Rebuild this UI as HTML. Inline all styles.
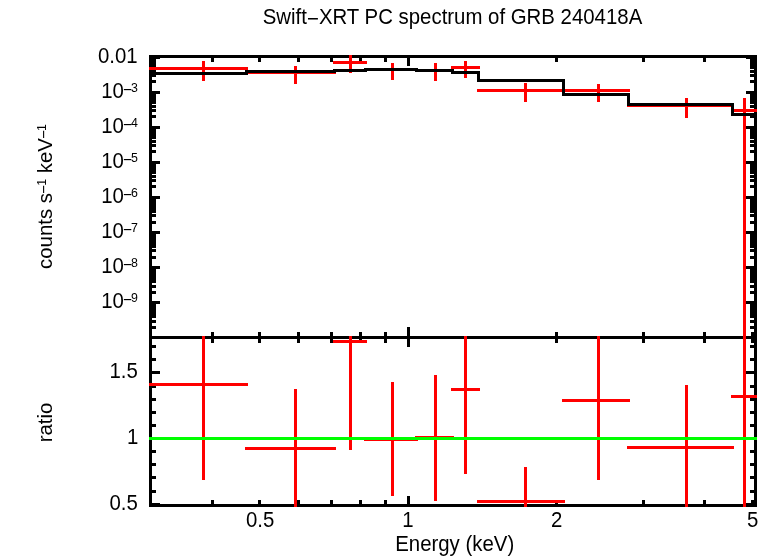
<!DOCTYPE html>
<html><head><meta charset="utf-8"><title>Swift-XRT PC spectrum of GRB 240418A</title>
<style>
html,body{margin:0;padding:0;background:#fff;}
svg{display:block;}
text{font-family:"Liberation Sans",Arial,Helvetica,sans-serif;fill:#000;}
</style></head><body>
<svg width="770" height="556" viewBox="0 0 770 556">
<rect x="0" y="0" width="770" height="556" fill="#fff"/>
<g shape-rendering="crispEdges">
<rect x="149" y="55" width="608" height="3" fill="#000"/>
<rect x="149" y="336" width="608" height="3" fill="#000"/>
<rect x="149" y="504" width="608" height="3" fill="#000"/>
<rect x="149" y="55" width="3" height="452" fill="#000"/>
<rect x="754" y="55" width="3" height="452" fill="#000"/>
<rect x="149" y="55" width="3" height="7" fill="#000"/>
<rect x="149" y="332" width="3" height="11" fill="#000"/>
<rect x="149" y="500" width="3" height="7" fill="#000"/>
<rect x="211" y="55" width="3" height="7" fill="#000"/>
<rect x="211" y="332" width="3" height="11" fill="#000"/>
<rect x="211" y="500" width="3" height="7" fill="#000"/>
<rect x="258" y="55" width="3" height="7" fill="#000"/>
<rect x="258" y="332" width="3" height="11" fill="#000"/>
<rect x="258" y="500" width="3" height="7" fill="#000"/>
<rect x="297" y="55" width="3" height="7" fill="#000"/>
<rect x="297" y="332" width="3" height="11" fill="#000"/>
<rect x="297" y="500" width="3" height="7" fill="#000"/>
<rect x="330" y="55" width="3" height="7" fill="#000"/>
<rect x="330" y="332" width="3" height="11" fill="#000"/>
<rect x="330" y="500" width="3" height="7" fill="#000"/>
<rect x="359" y="55" width="3" height="7" fill="#000"/>
<rect x="359" y="332" width="3" height="11" fill="#000"/>
<rect x="359" y="500" width="3" height="7" fill="#000"/>
<rect x="384" y="55" width="3" height="7" fill="#000"/>
<rect x="384" y="332" width="3" height="11" fill="#000"/>
<rect x="384" y="500" width="3" height="7" fill="#000"/>
<rect x="407" y="55" width="3" height="11" fill="#000"/>
<rect x="407" y="327" width="3" height="20" fill="#000"/>
<rect x="407" y="496" width="3" height="11" fill="#000"/>
<rect x="555" y="55" width="3" height="7" fill="#000"/>
<rect x="555" y="332" width="3" height="11" fill="#000"/>
<rect x="555" y="500" width="3" height="7" fill="#000"/>
<rect x="642" y="55" width="3" height="7" fill="#000"/>
<rect x="642" y="332" width="3" height="11" fill="#000"/>
<rect x="642" y="500" width="3" height="7" fill="#000"/>
<rect x="703" y="55" width="3" height="7" fill="#000"/>
<rect x="703" y="332" width="3" height="11" fill="#000"/>
<rect x="703" y="500" width="3" height="7" fill="#000"/>
<rect x="751" y="55" width="3" height="7" fill="#000"/>
<rect x="751" y="332" width="3" height="11" fill="#000"/>
<rect x="751" y="500" width="3" height="7" fill="#000"/>
<rect x="149" y="336" width="11" height="3" fill="#000"/>
<rect x="746" y="336" width="11" height="3" fill="#000"/>
<rect x="149" y="326" width="7" height="3" fill="#000"/>
<rect x="750" y="326" width="7" height="3" fill="#000"/>
<rect x="149" y="320" width="7" height="3" fill="#000"/>
<rect x="750" y="320" width="7" height="3" fill="#000"/>
<rect x="149" y="315" width="7" height="3" fill="#000"/>
<rect x="750" y="315" width="7" height="3" fill="#000"/>
<rect x="149" y="312" width="7" height="3" fill="#000"/>
<rect x="750" y="312" width="7" height="3" fill="#000"/>
<rect x="149" y="309" width="7" height="3" fill="#000"/>
<rect x="750" y="309" width="7" height="3" fill="#000"/>
<rect x="149" y="307" width="7" height="3" fill="#000"/>
<rect x="750" y="307" width="7" height="3" fill="#000"/>
<rect x="149" y="305" width="7" height="3" fill="#000"/>
<rect x="750" y="305" width="7" height="3" fill="#000"/>
<rect x="149" y="303" width="7" height="3" fill="#000"/>
<rect x="750" y="303" width="7" height="3" fill="#000"/>
<rect x="149" y="301" width="11" height="3" fill="#000"/>
<rect x="746" y="301" width="11" height="3" fill="#000"/>
<rect x="149" y="291" width="7" height="3" fill="#000"/>
<rect x="750" y="291" width="7" height="3" fill="#000"/>
<rect x="149" y="285" width="7" height="3" fill="#000"/>
<rect x="750" y="285" width="7" height="3" fill="#000"/>
<rect x="149" y="280" width="7" height="3" fill="#000"/>
<rect x="750" y="280" width="7" height="3" fill="#000"/>
<rect x="149" y="277" width="7" height="3" fill="#000"/>
<rect x="750" y="277" width="7" height="3" fill="#000"/>
<rect x="149" y="274" width="7" height="3" fill="#000"/>
<rect x="750" y="274" width="7" height="3" fill="#000"/>
<rect x="149" y="272" width="7" height="3" fill="#000"/>
<rect x="750" y="272" width="7" height="3" fill="#000"/>
<rect x="149" y="270" width="7" height="3" fill="#000"/>
<rect x="750" y="270" width="7" height="3" fill="#000"/>
<rect x="149" y="268" width="7" height="3" fill="#000"/>
<rect x="750" y="268" width="7" height="3" fill="#000"/>
<rect x="149" y="266" width="11" height="3" fill="#000"/>
<rect x="746" y="266" width="11" height="3" fill="#000"/>
<rect x="149" y="256" width="7" height="3" fill="#000"/>
<rect x="750" y="256" width="7" height="3" fill="#000"/>
<rect x="149" y="249" width="7" height="3" fill="#000"/>
<rect x="750" y="249" width="7" height="3" fill="#000"/>
<rect x="149" y="245" width="7" height="3" fill="#000"/>
<rect x="750" y="245" width="7" height="3" fill="#000"/>
<rect x="149" y="242" width="7" height="3" fill="#000"/>
<rect x="750" y="242" width="7" height="3" fill="#000"/>
<rect x="149" y="239" width="7" height="3" fill="#000"/>
<rect x="750" y="239" width="7" height="3" fill="#000"/>
<rect x="149" y="237" width="7" height="3" fill="#000"/>
<rect x="750" y="237" width="7" height="3" fill="#000"/>
<rect x="149" y="235" width="7" height="3" fill="#000"/>
<rect x="750" y="235" width="7" height="3" fill="#000"/>
<rect x="149" y="233" width="7" height="3" fill="#000"/>
<rect x="750" y="233" width="7" height="3" fill="#000"/>
<rect x="149" y="231" width="11" height="3" fill="#000"/>
<rect x="746" y="231" width="11" height="3" fill="#000"/>
<rect x="149" y="221" width="7" height="3" fill="#000"/>
<rect x="750" y="221" width="7" height="3" fill="#000"/>
<rect x="149" y="214" width="7" height="3" fill="#000"/>
<rect x="750" y="214" width="7" height="3" fill="#000"/>
<rect x="149" y="210" width="7" height="3" fill="#000"/>
<rect x="750" y="210" width="7" height="3" fill="#000"/>
<rect x="149" y="207" width="7" height="3" fill="#000"/>
<rect x="750" y="207" width="7" height="3" fill="#000"/>
<rect x="149" y="204" width="7" height="3" fill="#000"/>
<rect x="750" y="204" width="7" height="3" fill="#000"/>
<rect x="149" y="201" width="7" height="3" fill="#000"/>
<rect x="750" y="201" width="7" height="3" fill="#000"/>
<rect x="149" y="199" width="7" height="3" fill="#000"/>
<rect x="750" y="199" width="7" height="3" fill="#000"/>
<rect x="149" y="198" width="7" height="3" fill="#000"/>
<rect x="750" y="198" width="7" height="3" fill="#000"/>
<rect x="149" y="196" width="11" height="3" fill="#000"/>
<rect x="746" y="196" width="11" height="3" fill="#000"/>
<rect x="149" y="185" width="7" height="3" fill="#000"/>
<rect x="750" y="185" width="7" height="3" fill="#000"/>
<rect x="149" y="179" width="7" height="3" fill="#000"/>
<rect x="750" y="179" width="7" height="3" fill="#000"/>
<rect x="149" y="175" width="7" height="3" fill="#000"/>
<rect x="750" y="175" width="7" height="3" fill="#000"/>
<rect x="149" y="171" width="7" height="3" fill="#000"/>
<rect x="750" y="171" width="7" height="3" fill="#000"/>
<rect x="149" y="169" width="7" height="3" fill="#000"/>
<rect x="750" y="169" width="7" height="3" fill="#000"/>
<rect x="149" y="166" width="7" height="3" fill="#000"/>
<rect x="750" y="166" width="7" height="3" fill="#000"/>
<rect x="149" y="164" width="7" height="3" fill="#000"/>
<rect x="750" y="164" width="7" height="3" fill="#000"/>
<rect x="149" y="163" width="7" height="3" fill="#000"/>
<rect x="750" y="163" width="7" height="3" fill="#000"/>
<rect x="149" y="161" width="11" height="3" fill="#000"/>
<rect x="746" y="161" width="11" height="3" fill="#000"/>
<rect x="149" y="150" width="7" height="3" fill="#000"/>
<rect x="750" y="150" width="7" height="3" fill="#000"/>
<rect x="149" y="144" width="7" height="3" fill="#000"/>
<rect x="750" y="144" width="7" height="3" fill="#000"/>
<rect x="149" y="140" width="7" height="3" fill="#000"/>
<rect x="750" y="140" width="7" height="3" fill="#000"/>
<rect x="149" y="136" width="7" height="3" fill="#000"/>
<rect x="750" y="136" width="7" height="3" fill="#000"/>
<rect x="149" y="134" width="7" height="3" fill="#000"/>
<rect x="750" y="134" width="7" height="3" fill="#000"/>
<rect x="149" y="131" width="7" height="3" fill="#000"/>
<rect x="750" y="131" width="7" height="3" fill="#000"/>
<rect x="149" y="129" width="7" height="3" fill="#000"/>
<rect x="750" y="129" width="7" height="3" fill="#000"/>
<rect x="149" y="127" width="7" height="3" fill="#000"/>
<rect x="750" y="127" width="7" height="3" fill="#000"/>
<rect x="149" y="126" width="11" height="3" fill="#000"/>
<rect x="746" y="126" width="11" height="3" fill="#000"/>
<rect x="149" y="115" width="7" height="3" fill="#000"/>
<rect x="750" y="115" width="7" height="3" fill="#000"/>
<rect x="149" y="109" width="7" height="3" fill="#000"/>
<rect x="750" y="109" width="7" height="3" fill="#000"/>
<rect x="149" y="105" width="7" height="3" fill="#000"/>
<rect x="750" y="105" width="7" height="3" fill="#000"/>
<rect x="149" y="101" width="7" height="3" fill="#000"/>
<rect x="750" y="101" width="7" height="3" fill="#000"/>
<rect x="149" y="98" width="7" height="3" fill="#000"/>
<rect x="750" y="98" width="7" height="3" fill="#000"/>
<rect x="149" y="96" width="7" height="3" fill="#000"/>
<rect x="750" y="96" width="7" height="3" fill="#000"/>
<rect x="149" y="94" width="7" height="3" fill="#000"/>
<rect x="750" y="94" width="7" height="3" fill="#000"/>
<rect x="149" y="92" width="7" height="3" fill="#000"/>
<rect x="750" y="92" width="7" height="3" fill="#000"/>
<rect x="149" y="91" width="11" height="3" fill="#000"/>
<rect x="746" y="91" width="11" height="3" fill="#000"/>
<rect x="149" y="80" width="7" height="3" fill="#000"/>
<rect x="750" y="80" width="7" height="3" fill="#000"/>
<rect x="149" y="74" width="7" height="3" fill="#000"/>
<rect x="750" y="74" width="7" height="3" fill="#000"/>
<rect x="149" y="70" width="7" height="3" fill="#000"/>
<rect x="750" y="70" width="7" height="3" fill="#000"/>
<rect x="149" y="66" width="7" height="3" fill="#000"/>
<rect x="750" y="66" width="7" height="3" fill="#000"/>
<rect x="149" y="63" width="7" height="3" fill="#000"/>
<rect x="750" y="63" width="7" height="3" fill="#000"/>
<rect x="149" y="61" width="7" height="3" fill="#000"/>
<rect x="750" y="61" width="7" height="3" fill="#000"/>
<rect x="149" y="59" width="7" height="3" fill="#000"/>
<rect x="750" y="59" width="7" height="3" fill="#000"/>
<rect x="149" y="57" width="7" height="3" fill="#000"/>
<rect x="750" y="57" width="7" height="3" fill="#000"/>
<rect x="149" y="56" width="11" height="3" fill="#000"/>
<rect x="746" y="56" width="11" height="3" fill="#000"/>
<rect x="149" y="345" width="7" height="3" fill="#000"/>
<rect x="750" y="345" width="7" height="3" fill="#000"/>
<rect x="149" y="358" width="7" height="3" fill="#000"/>
<rect x="750" y="358" width="7" height="3" fill="#000"/>
<rect x="149" y="371" width="11" height="3" fill="#000"/>
<rect x="746" y="371" width="11" height="3" fill="#000"/>
<rect x="149" y="385" width="7" height="3" fill="#000"/>
<rect x="750" y="385" width="7" height="3" fill="#000"/>
<rect x="149" y="398" width="7" height="3" fill="#000"/>
<rect x="750" y="398" width="7" height="3" fill="#000"/>
<rect x="149" y="411" width="7" height="3" fill="#000"/>
<rect x="750" y="411" width="7" height="3" fill="#000"/>
<rect x="149" y="424" width="7" height="3" fill="#000"/>
<rect x="750" y="424" width="7" height="3" fill="#000"/>
<rect x="149" y="437" width="11" height="3" fill="#000"/>
<rect x="746" y="437" width="11" height="3" fill="#000"/>
<rect x="149" y="450" width="7" height="3" fill="#000"/>
<rect x="750" y="450" width="7" height="3" fill="#000"/>
<rect x="149" y="463" width="7" height="3" fill="#000"/>
<rect x="750" y="463" width="7" height="3" fill="#000"/>
<rect x="149" y="476" width="7" height="3" fill="#000"/>
<rect x="750" y="476" width="7" height="3" fill="#000"/>
<rect x="149" y="490" width="7" height="3" fill="#000"/>
<rect x="750" y="490" width="7" height="3" fill="#000"/>
<rect x="149" y="503" width="11" height="3" fill="#000"/>
<rect x="746" y="503" width="11" height="3" fill="#000"/>
<rect x="149" y="67" width="99" height="3" fill="#f00"/>
<rect x="202" y="61" width="3" height="20" fill="#f00"/>
<rect x="245" y="71" width="91" height="3" fill="#f00"/>
<rect x="294" y="66" width="3" height="18" fill="#f00"/>
<rect x="333" y="61" width="34" height="3" fill="#f00"/>
<rect x="349" y="55" width="3" height="18" fill="#f00"/>
<rect x="364" y="68" width="54" height="3" fill="#f00"/>
<rect x="391" y="63" width="3" height="17" fill="#f00"/>
<rect x="415" y="69" width="39" height="3" fill="#f00"/>
<rect x="434" y="63" width="3" height="18" fill="#f00"/>
<rect x="451" y="66" width="29" height="3" fill="#f00"/>
<rect x="464" y="61" width="3" height="17" fill="#f00"/>
<rect x="477" y="89" width="88" height="3" fill="#f00"/>
<rect x="524" y="83" width="3" height="19" fill="#f00"/>
<rect x="562" y="89" width="68" height="3" fill="#f00"/>
<rect x="597" y="84" width="3" height="18" fill="#f00"/>
<rect x="627" y="104" width="107" height="3" fill="#f00"/>
<rect x="685" y="98" width="3" height="20" fill="#f00"/>
<rect x="731" y="109" width="26" height="3" fill="#f00"/>
<rect x="743" y="98" width="3" height="241" fill="#f00"/>
<rect x="149" y="72" width="99" height="3" fill="#000"/>
<rect x="245" y="70" width="3" height="5" fill="#000"/>
<rect x="245" y="70" width="91" height="3" fill="#000"/>
<rect x="333" y="69" width="3" height="4" fill="#000"/>
<rect x="333" y="69" width="34" height="3" fill="#000"/>
<rect x="364" y="68" width="3" height="4" fill="#000"/>
<rect x="364" y="68" width="54" height="3" fill="#000"/>
<rect x="415" y="68" width="3" height="4" fill="#000"/>
<rect x="415" y="69" width="39" height="3" fill="#000"/>
<rect x="451" y="69" width="3" height="5" fill="#000"/>
<rect x="451" y="71" width="29" height="3" fill="#000"/>
<rect x="477" y="71" width="3" height="11" fill="#000"/>
<rect x="477" y="79" width="88" height="3" fill="#000"/>
<rect x="562" y="79" width="3" height="17" fill="#000"/>
<rect x="562" y="93" width="68" height="3" fill="#000"/>
<rect x="627" y="93" width="3" height="13" fill="#000"/>
<rect x="627" y="103" width="107" height="3" fill="#000"/>
<rect x="731" y="103" width="3" height="13" fill="#000"/>
<rect x="731" y="113" width="26" height="3" fill="#000"/>
<rect x="149" y="383" width="99" height="3" fill="#f00"/>
<rect x="202" y="336" width="3" height="144" fill="#f00"/>
<rect x="245" y="447" width="91" height="3" fill="#f00"/>
<rect x="294" y="389" width="3" height="118" fill="#f00"/>
<rect x="333" y="340" width="34" height="3" fill="#f00"/>
<rect x="349" y="336" width="3" height="114" fill="#f00"/>
<rect x="364" y="438" width="54" height="3" fill="#f00"/>
<rect x="391" y="382" width="3" height="114" fill="#f00"/>
<rect x="415" y="436" width="39" height="3" fill="#f00"/>
<rect x="434" y="375" width="3" height="126" fill="#f00"/>
<rect x="451" y="388" width="29" height="3" fill="#f00"/>
<rect x="464" y="336" width="3" height="138" fill="#f00"/>
<rect x="477" y="500" width="88" height="3" fill="#f00"/>
<rect x="524" y="467" width="3" height="40" fill="#f00"/>
<rect x="562" y="399" width="68" height="3" fill="#f00"/>
<rect x="597" y="336" width="3" height="144" fill="#f00"/>
<rect x="627" y="446" width="107" height="3" fill="#f00"/>
<rect x="685" y="385" width="3" height="122" fill="#f00"/>
<rect x="731" y="395" width="26" height="3" fill="#f00"/>
<rect x="743" y="336" width="3" height="171" fill="#f00"/>
<rect x="149" y="437" width="608" height="3" fill="#0f0"/>
</g>
<g>
<text transform="translate(452.5,24.1) scale(1,1.065)" font-size="20.4" text-anchor="middle">Swift<tspan dy="1.9">−</tspan><tspan dy="-1.9">XRT PC spectrum of GRB 240418A</tspan></text>
<text transform="translate(454.7,551) scale(1,1.065)" font-size="20.4" text-anchor="middle">Energy (keV)</text>
<text transform="translate(260.2,527) scale(1,1.065)" font-size="20.4" text-anchor="middle">0.5</text>
<text transform="translate(408,527) scale(1,1.065)" font-size="20.4" text-anchor="middle">1</text>
<text transform="translate(556.6,527) scale(1,1.065)" font-size="20.4" text-anchor="middle">2</text>
<text transform="translate(752.6,527) scale(1,1.065)" font-size="20.4" text-anchor="middle">5</text>
<text transform="translate(137.6,62.9) scale(1,1.065)" font-size="20.4" text-anchor="end">0.01</text>
<text transform="translate(138,97.6) scale(1,1.065)" font-size="20.4" text-anchor="end">10<tspan font-size="15.3" dx="-0.9" dy="-2.6">−</tspan><tspan font-size="12.4" dx="-0.8" dy="-2.8">3</tspan></text>
<text transform="translate(138,132.6) scale(1,1.065)" font-size="20.4" text-anchor="end">10<tspan font-size="15.3" dx="-0.9" dy="-2.6">−</tspan><tspan font-size="12.4" dx="-0.8" dy="-2.8">4</tspan></text>
<text transform="translate(138,167.6) scale(1,1.065)" font-size="20.4" text-anchor="end">10<tspan font-size="15.3" dx="-0.9" dy="-2.6">−</tspan><tspan font-size="12.4" dx="-0.8" dy="-2.8">5</tspan></text>
<text transform="translate(138,202.6) scale(1,1.065)" font-size="20.4" text-anchor="end">10<tspan font-size="15.3" dx="-0.9" dy="-2.6">−</tspan><tspan font-size="12.4" dx="-0.8" dy="-2.8">6</tspan></text>
<text transform="translate(138,237.6) scale(1,1.065)" font-size="20.4" text-anchor="end">10<tspan font-size="15.3" dx="-0.9" dy="-2.6">−</tspan><tspan font-size="12.4" dx="-0.8" dy="-2.8">7</tspan></text>
<text transform="translate(138,272.6) scale(1,1.065)" font-size="20.4" text-anchor="end">10<tspan font-size="15.3" dx="-0.9" dy="-2.6">−</tspan><tspan font-size="12.4" dx="-0.8" dy="-2.8">8</tspan></text>
<text transform="translate(138,307.6) scale(1,1.065)" font-size="20.4" text-anchor="end">10<tspan font-size="15.3" dx="-0.9" dy="-2.6">−</tspan><tspan font-size="12.4" dx="-0.8" dy="-2.8">9</tspan></text>
<text transform="translate(137.8,377.7) scale(1,1.065)" font-size="20.4" text-anchor="end">1.5</text>
<text transform="translate(138.3,443.7) scale(1,1.065)" font-size="20.4" text-anchor="end">1</text>
<text transform="translate(137.8,509.7) scale(1,1.065)" font-size="20.4" text-anchor="end">0.5</text>
<text transform="translate(52,196.5) rotate(-90) scale(1,1.02)" font-size="20.4" text-anchor="middle">counts s<tspan font-size="15.3" dx="-0.9" dy="-2.6">−</tspan><tspan font-size="12.4" dx="-0.8" dy="-2.8">1</tspan><tspan dy="5.4"> keV</tspan><tspan font-size="15.3" dx="-0.9" dy="-2.6">−</tspan><tspan font-size="12.4" dx="-0.8" dy="-2.8">1</tspan></text>
<text transform="translate(52,422.5) rotate(-90) scale(1,1.0)" font-size="20.4" text-anchor="middle">ratio</text>
</g>
</svg>
</body></html>
